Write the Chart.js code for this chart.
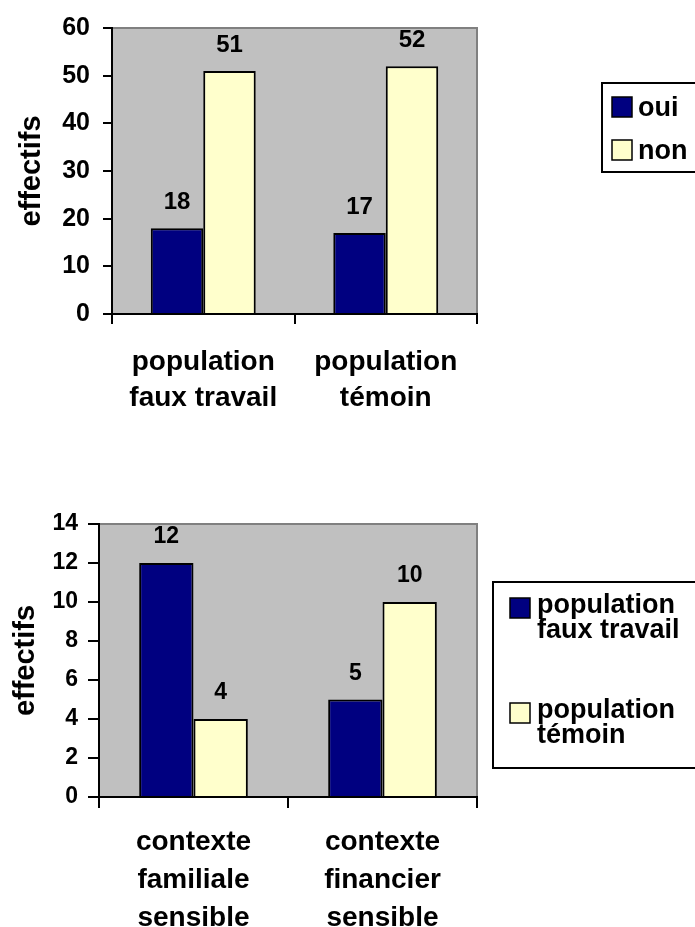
<!DOCTYPE html>
<html>
<head>
<meta charset="utf-8">
<script src="https://cdn.jsdelivr.net/npm/chart.js@4.4.1/dist/chart.umd.min.js"></script>
<style>
  body { margin: 0; background: #fff; }
  #wrap1 { position: absolute; left: 0; top: 0; width: 695px; height: 430px; }
  #wrap2 { position: absolute; left: 0; top: 470px; width: 695px; height: 457px; }
</style>
</head>
<body>
<div id="wrap1"><canvas id="chart1" width="695" height="430"></canvas></div>
<div id="wrap2"><canvas id="chart2" width="695" height="457"></canvas></div>
<script>
// chart 1 : oui / non par population
var categories1 = [["population", "faux travail"], ["population", "témoin"]];
var seriesNames1 = [["oui"], ["non"]];
var oui = [18, 17];
var non = [51, 52];
var yMax1 = 60, yStep1 = 10;

// chart 2 : contexte
var categories2 = [["contexte", "familiale", "sensible"], ["contexte", "financier", "sensible"]];
var seriesNames2 = [["population", "faux travail"], ["population", "témoin"]];
var fauxTravail = [12, 5];
var temoin = [4, 10];
var yMax2 = 14, yStep2 = 2;

var NAVY = "#000080";
var CREAM = "#FFFFCC";
var FONT = "'Liberation Sans', Arial, sans-serif";

Chart.defaults.font.family = FONT;
Chart.defaults.font.weight = "bold";
Chart.defaults.color = "#000";

// grey plot background with its thin grey frame
var plotBox = {
  id: "plotBox",
  beforeDraw(chart) {
    var a = chart.chartArea, ctx = chart.ctx;
    ctx.save();
    ctx.fillStyle = "#C0C0C0";
    ctx.fillRect(a.left, a.top, a.right - a.left, a.bottom - a.top);
    ctx.strokeStyle = "#808080";
    ctx.lineWidth = 2;
    ctx.strokeRect(a.left, a.top, a.right - a.left, a.bottom - a.top);
    ctx.restore();
  },
};

// value written above every bar
var valueLabels = {
  id: "valueLabels",
  afterDatasetsDraw(chart, args, opts) {
    var ctx = chart.ctx;
    ctx.save();
    ctx.font = "bold " + opts.size + "px " + FONT;
    ctx.fillStyle = "#000";
    ctx.textAlign = "center";
    ctx.textBaseline = "middle";
    chart.data.datasets.forEach(function (ds, i) {
      chart.getDatasetMeta(i).data.forEach(function (bar, j) {
        ctx.fillText(String(ds.data[j]), bar.x, bar.y - opts.offset);
      });
    });
    ctx.restore();
  },
};

// framed legend at the right, as in the original
var boxLegend = {
  id: "boxLegend",
  afterDraw(chart, args, o) {
    var ctx = chart.ctx;
    ctx.save();
    ctx.strokeStyle = "#000";
    ctx.lineWidth = 2;
    ctx.strokeRect(o.left, o.top, o.width, o.height);
    ctx.font = "bold " + o.size + "px " + FONT;
    ctx.textAlign = "left";
    ctx.textBaseline = "alphabetic";
    chart.data.datasets.forEach(function (ds, i) {
      var y = o.rows[i];
      ctx.fillStyle = ds.backgroundColor;
      ctx.fillRect(o.swatchX, y, 20, 20);
      ctx.lineWidth = 1.5;
      ctx.strokeRect(o.swatchX, y, 20, 20);
      ctx.fillStyle = "#000";
      ds.lines.forEach(function (line, k) {
        ctx.fillText(line, o.textX, y + o.baseline + k * o.lineGap);
      });
    });
    ctx.restore();
  },
};

function makeChart(id, cfg) {
  return new Chart(id, {
    type: "bar",
    data: {
      labels: cfg.labels,
      datasets: cfg.series.map(function (s) {
        return {
          label: s.lines.join(" "),
          lines: s.lines,
          data: s.data,
          backgroundColor: s.color,
          borderColor: "#000",
          borderWidth: 2,
          categoryPercentage: 0.575,
          barPercentage: 1.0,
        };
      }),
    },
    options: {
      responsive: false,
      animation: false,
      layout: { padding: { top: cfg.top, right: 218, left: 0, bottom: 0 } },
      scales: {
        x: {
          grid: { drawOnChartArea: false, color: "#000", lineWidth: 2, tickLength: cfg.xTick },
          border: { color: "#000", width: 2 },
          ticks: { font: { size: 28, lineHeight: cfg.catLine }, padding: cfg.xPad, maxRotation: 0 },
          afterFit(scale) { scale.height = cfg.xHeight; },
        },
        y: {
          min: 0,
          max: cfg.yMax,
          grid: { drawOnChartArea: false, color: "#000", lineWidth: 2, tickLength: cfg.yTick },
          border: { color: "#000", width: 2 },
          ticks: { stepSize: cfg.yStep, font: { size: cfg.tickSize }, padding: cfg.yPad },
          title: { display: true, text: "effectifs", font: { size: 29 }, padding: { top: cfg.titlePad, bottom: 0 } },
          afterFit(scale) { scale.width = cfg.yWidth; },
        },
      },
      plugins: {
        legend: { display: false },
        tooltip: { enabled: false },
        valueLabels: { size: cfg.valueSize, offset: 26 },
        boxLegend: cfg.legend,
      },
    },
    plugins: [plotBox, valueLabels, boxLegend],
  });
}

makeChart("chart1", {
  labels: categories1,
  series: [
    { lines: seriesNames1[0], data: oui, color: NAVY },
    { lines: seriesNames1[1], data: non, color: CREAM },
  ],
  yMax: yMax1, yStep: yStep1,
  top: 26, xHeight: 116, yWidth: 112,
  xTick: 10, xPad: 20, catLine: 1.29,
  yTick: 9, yPad: 13, tickSize: 25, titlePad: 15,
  valueSize: 24,
  legend: { left: 602, top: 83, width: 140, height: 89, swatchX: 612, textX: 638, rows: [97, 140], baseline: 19, lineGap: 25, size: 27 },
});

makeChart("chart2", {
  labels: categories2,
  series: [
    { lines: seriesNames2[0], data: fauxTravail, color: NAVY },
    { lines: seriesNames2[1], data: temoin, color: CREAM },
  ],
  yMax: yMax2, yStep: yStep2,
  top: 54, xHeight: 130, yWidth: 99,
  xTick: 11, xPad: 15, catLine: 1.36,
  yTick: 11, yPad: 10, tickSize: 23, titlePad: 9,
  valueSize: 23,
  legend: { left: 493, top: 112, width: 240, height: 186, swatchX: 510, textX: 537, rows: [128, 233], baseline: 15, lineGap: 25, size: 27 },
});
</script>
</body>
</html>
